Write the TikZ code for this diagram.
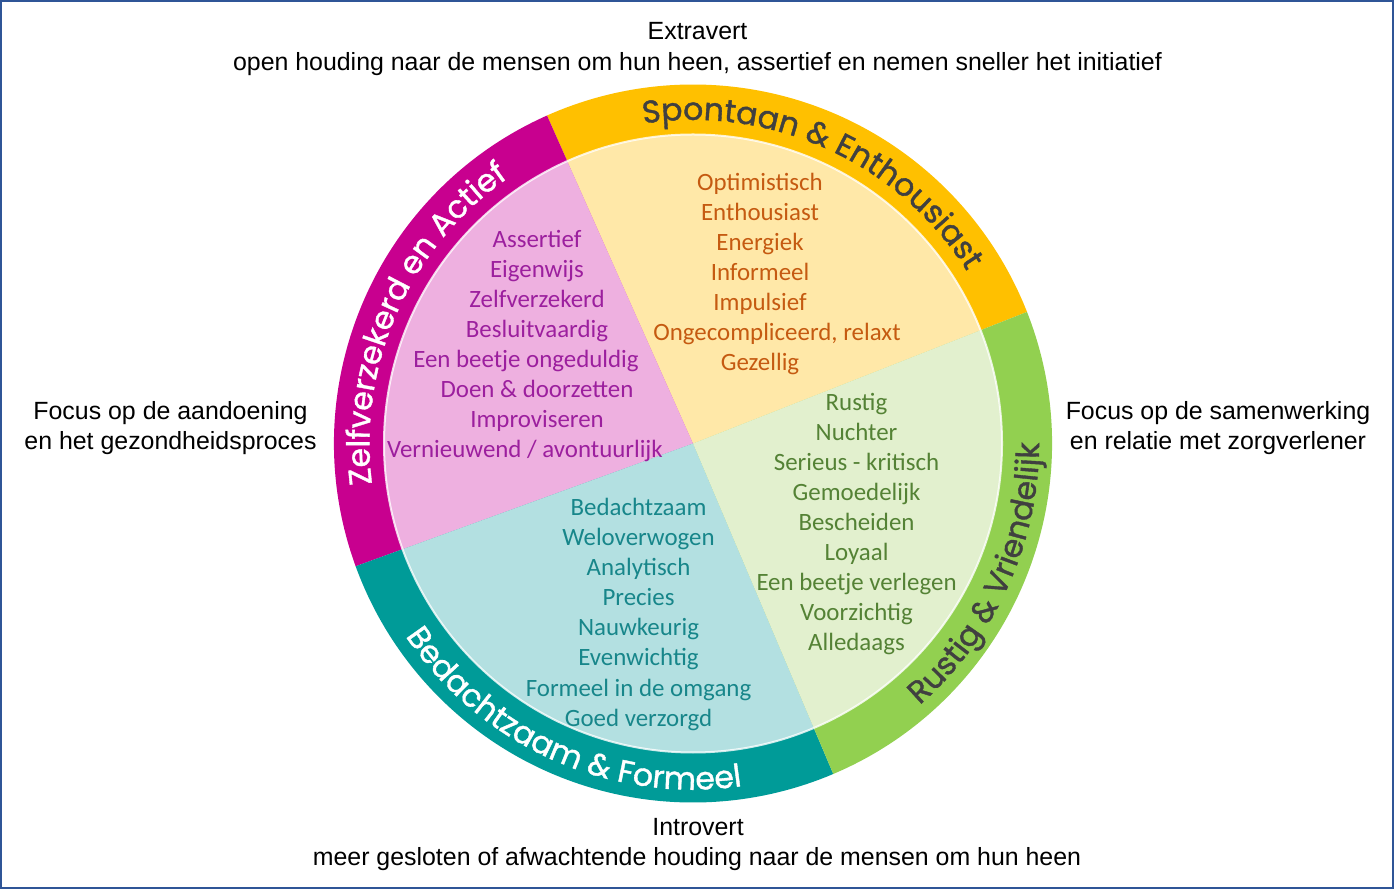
\documentclass[tikz,border=0pt]{standalone}
\usepackage{fontspec}
\setmainfont{Liberation Sans}
\newfontfamily\calib{Carlito}
\newfontfamily\popp[FakeBold=1.2]{Poppins}
\usetikzlibrary{decorations.text}
\definecolor{ringP}{HTML}{C8008F}
\definecolor{fillP}{HTML}{EEB0E0}
\definecolor{txtP}{HTML}{9C1F9E}
\definecolor{ringY}{HTML}{FFC000}
\definecolor{fillY}{HTML}{FFE8A8}
\definecolor{txtY}{HTML}{C55A11}
\definecolor{ringG}{HTML}{92D050}
\definecolor{fillG}{HTML}{E2F0CE}
\definecolor{txtG}{HTML}{548235}
\definecolor{ringT}{HTML}{009B98}
\definecolor{fillT}{HTML}{B3E0E1}
\definecolor{txtT}{HTML}{17868A}
\definecolor{frame}{HTML}{2F5597}
\definecolor{ringdark}{HTML}{404040}
\begin{document}
\begin{tikzpicture}[x=1pt,y=1pt,
  outer/.style={font=\fontsize{24.9}{30}\selectfont, text=black, inner sep=0pt, anchor=base},
  inner/.style={font=\calib\fontsize{24.9}{30}\selectfont, inner sep=0pt, anchor=base}]
\useasboundingbox (0,0) rectangle (1394,889);
\fill[white] (0,0) rectangle (1394,889);
\draw[frame, line width=2.4pt] (1.2,1.2) rectangle (1392.8,887.8);
\coordinate (C) at (693,445.5);
\def\Ro{359}
\def\Ri{309}
\def\rfont{\popp\fontsize{31.5}{31.5}\selectfont}
\begin{scope}[shift={(C)}]
% ring sectors
\fill[ringY] (0,0) -- (21.5:\Ro) arc[start angle=21.5, end angle=114, radius=\Ro] -- cycle;
\fill[ringP] (0,0) -- (114:\Ro) arc[start angle=114, end angle=200, radius=\Ro] -- cycle;
\fill[ringT] (0,0) -- (200:\Ro) arc[start angle=200, end angle=293, radius=\Ro] -- cycle;
\fill[ringG] (0,0) -- (293:\Ro) arc[start angle=293, end angle=381.5, radius=\Ro] -- cycle;
% inner sectors
\fill[fillY] (0,0) -- (21.5:\Ri) arc[start angle=21.5, end angle=114, radius=\Ri] -- cycle;
\fill[fillP] (0,0) -- (114:\Ri) arc[start angle=114, end angle=200, radius=\Ri] -- cycle;
\fill[fillT] (0,0) -- (200:\Ri) arc[start angle=200, end angle=293, radius=\Ri] -- cycle;
\fill[fillG] (0,0) -- (293:\Ri) arc[start angle=293, end angle=381.5, radius=\Ri] -- cycle;
\draw[white, line width=2pt, opacity=0.8] (0,0) circle[radius=\Ri];
% ring texts
\path[decorate, decoration={text along path, text align=center,
  text={|\rfont\color{ringdark}|Spontaan {\&} Enthousiast}}]
  (110:323.5) arc[start angle=110, end angle=21, radius=323.5];
\path[decorate, decoration={text along path, text align=center,
  text={|\rfont\color{white}|Zelfverzekerd en Actief}}]
  (200:323.5) arc[start angle=200, end angle=112, radius=323.5];
\path[decorate, decoration={text along path, text align=center,
  text={|\rfont\color{ringdark}|Rustig {\&} Vriendelijk}}]
  (-68:346) arc[start angle=-68, end angle=19, radius=346];
\path[decorate, decoration={text along path, text align=center,
  text={|\rfont\color{white}|Bedachtzaam {\&} Formeel}}]
  (202:346) arc[start angle=202, end angle=290, radius=346];
\end{scope}
% inner texts
\foreach \t [count=\i from 0] in {Assertief, Eigenwijs, Zelfverzekerd, Besluitvaardig,
  Een beetje ongeduldig\kern22pt, Doen \& doorzetten, Improviseren, Vernieuwend / avontuurlijk\kern24pt}
  \node[inner, text=txtP] (p\i) at (537, 889-248-30*\i) {\t};
\foreach \t [count=\i from 0] in {Optimistisch, Enthousiast, Energiek, Informeel, Impulsief,
  \kern34pt Ongecompliceerd{,} relaxt, Gezellig}
  \node[inner, text=txtY] (y\i) at (760, 889-191-30*\i) {\t};
\foreach \t [count=\i from 0] in {Rustig, Nuchter, Serieus - kritisch, Gemoedelijk, Bescheiden,
  Loyaal, Een beetje verlegen, Voorzichtig, Alledaags}
  \node[inner, text=txtG] (g\i) at (856.5, 889-411-30*\i) {\t};
\foreach \t [count=\i from 0] in {Bedachtzaam, Weloverwogen, Analytisch, Precies, Nauwkeurig,
  Evenwichtig, Formeel in de omgang, Goed verzorgd}
  \node[inner, text=txtT] (t\i) at (638.5, 889-516-30*\i) {\t};
% outer texts
\node[outer] (ext) at (697.5, 889-40) {Extravert};
\node[outer] (ext2) at (697.5, 889-71) {open houding naar de mensen om hun heen, assertief en nemen sneller het initiatief};
\node[outer] (int) at (698, 889-835) {Introvert};
\node[outer] (int2) at (697, 889-865) {meer gesloten of afwachtende houding naar de mensen om hun heen};
\node[outer] (lf1) at (170.5, 889-420) {Focus op de aandoening};
\node[outer] (lf2) at (170.5, 889-450) {en het gezondheidsproces};
\node[outer] (rt1) at (1218, 889-420) {Focus op de samenwerking};
\node[outer] (rt2) at (1218, 889-450) {en relatie met zorgverlener};
\end{tikzpicture}
\end{document}
